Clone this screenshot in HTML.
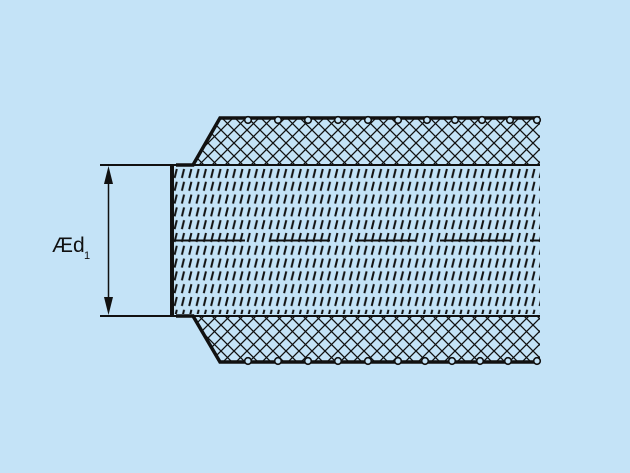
<!DOCTYPE html>
<html><head><style>
html,body{margin:0;padding:0;background:#c4e3f7;width:630px;height:473px;overflow:hidden;}
svg{display:block;overflow:hidden}
</style></head><body>
<svg width="630" height="473" viewBox="0 0 630 473" xmlns="http://www.w3.org/2000/svg">
<defs>
<pattern id="x" width="13" height="13" patternUnits="userSpaceOnUse">
<path d="M-3,-3 L16,16 M-3,10 L3,16 M10,-3 L16,3 M16,-3 L-3,16 M3,-3 L-3,3 M16,10 L10,16" stroke="#111" stroke-width="1.3"/>
</pattern>
<pattern id="d" x="172" y="168" width="7.3" height="12.8" patternUnits="userSpaceOnUse">
<path d="M4.8,1 L2.6,10" stroke="#111" stroke-width="2"/>
</pattern>
<clipPath id="c"><rect x="174" y="167" width="366" height="147"/></clipPath>
</defs>
<rect width="630" height="473" fill="#c4e3f7"/>
<polygon points="193,165 220,118 540,118 540,165" fill="url(#x)"/>
<polygon points="193,316 220,362 540,362 540,316" fill="url(#x)"/>
<rect x="174" y="167" width="366" height="147" fill="url(#d)" clip-path="url(#c)"/>
<path d="M174,240.5 H245 M270,240.5 H330 M355,240.5 H415 M440,240.5 H510 M530,240.5 H540" stroke="#111" stroke-width="2"/>
<path d="M100,165 H540 M100,316 H540" stroke="#111" stroke-width="2"/>
<path d="M172,164 V317" stroke="#111" stroke-width="4"/>
<path d="M176,165 H193 L220,118 H540 M176,316 H193 L220,362 H540" fill="none" stroke="#111" stroke-width="3.5" stroke-linejoin="miter"/>
<g fill="#c4e3f7" stroke="#111" stroke-width="1.6">
<circle cx="248" cy="120" r="3.3"/><circle cx="278" cy="120" r="3.3"/><circle cx="308" cy="120" r="3.3"/><circle cx="338" cy="120" r="3.3"/><circle cx="368" cy="120" r="3.3"/><circle cx="398" cy="120" r="3.3"/><circle cx="427" cy="120" r="3.3"/><circle cx="455" cy="120" r="3.3"/><circle cx="482" cy="120" r="3.3"/><circle cx="510" cy="120" r="3.3"/><circle cx="537" cy="120" r="3.3"/>
<circle cx="248" cy="361" r="3.3"/><circle cx="278" cy="361" r="3.3"/><circle cx="308" cy="361" r="3.3"/><circle cx="338" cy="361" r="3.3"/><circle cx="368" cy="361" r="3.3"/><circle cx="398" cy="361" r="3.3"/><circle cx="425" cy="361" r="3.3"/><circle cx="452" cy="361" r="3.3"/><circle cx="480" cy="361" r="3.3"/><circle cx="508" cy="361" r="3.3"/><circle cx="537" cy="361" r="3.3"/>
</g>
<path d="M108.5,175 V306" stroke="#111" stroke-width="1.5"/>
<polygon points="108.5,166 104,184 113,184" fill="#111"/>
<polygon points="108.5,315 104,297 113,297" fill="#111"/>
<text x="52" y="252" font-family="Liberation Sans, sans-serif" font-size="21" fill="#111">Æd</text>
<text x="84" y="259" font-family="Liberation Sans, sans-serif" font-size="11" fill="#111">1</text>
</svg>
</body></html>
